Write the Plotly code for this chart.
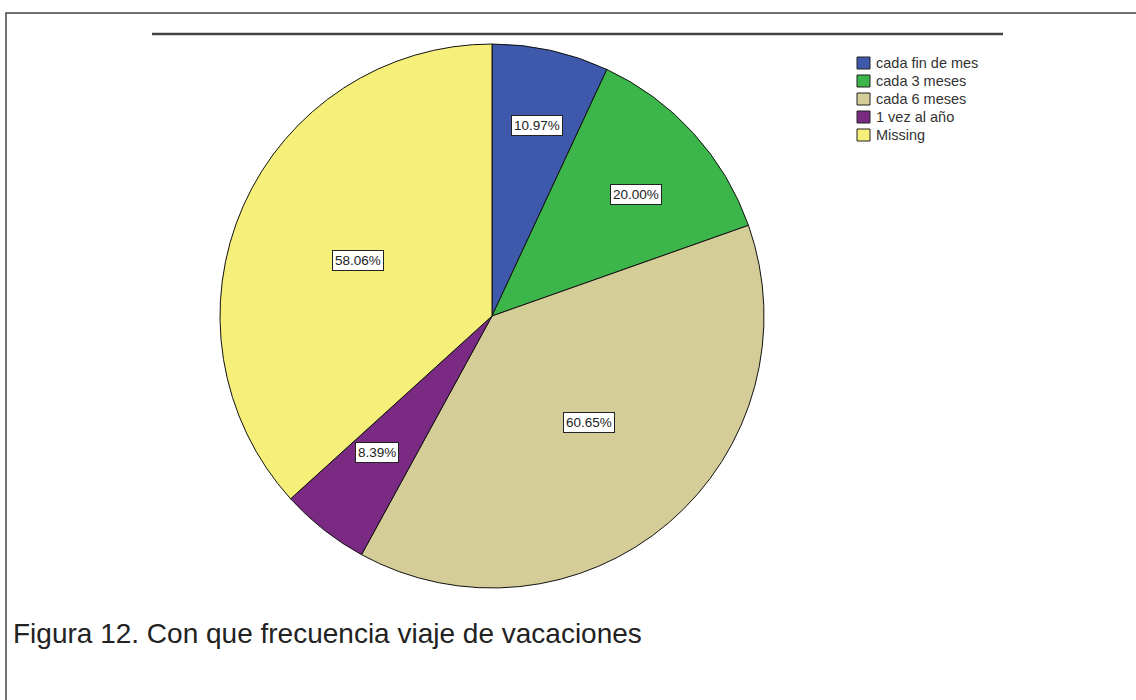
import math
import plotly.graph_objects as go

labels = ["cada fin de mes", "cada 3 meses", "cada 6 meses", "1 vez al año", "Missing"]
values = [10.97, 20.00, 60.65, 8.39, 58.06]
colors = ["#3E58AC", "#3CB54A", "#D4CD97", "#7A2A82", "#F6F07A"]

# radial position of each percentage box, as a fraction of the pie radius
label_r = [0.74, 0.69, 0.53, 0.66, 0.52]

W, H = 1136, 700
cx, cy = 492, 316      # pie centre in px, measured from the top-left
rad = 272
rx, ry = 281, 263      # used for the label placement


def px(x):
    return x / W


def py(y):
    return 1 - y / H


fig = go.Figure(go.Pie(
    labels=labels,
    values=values,
    sort=False,
    direction="clockwise",
    rotation=0,
    marker=dict(colors=colors, line=dict(color="#111", width=1)),
    textinfo="none",
    hoverinfo="label+value",
    showlegend=False,
    domain=dict(x=[px(cx - rad), px(cx + rad)], y=[py(cy + rad), py(cy - rad)]),
))

# percentage labels in boxes, placed along each slice bisector
total = sum(values)
cum = 0
for v, rf in zip(values, label_r):
    mid = (cum + v / 2) / total * 2 * math.pi
    cum += v
    fig.add_annotation(
        x=px(cx + rf * rx * math.sin(mid)), y=py(cy - rf * ry * math.cos(mid)),
        xref="paper", yref="paper", xanchor="center", yanchor="middle", showarrow=False,
        text=f"{v:.2f}%", font=dict(size=13.5, color="#222", family="Liberation Sans, Arial"),
        bgcolor="white", bordercolor="#222", borderwidth=1, borderpad=2,
    )

# legend drawn by hand (SPSS style: tight rows, square swatches with dark border)
leg_x, leg_y, leg_step = 857, 63, 18
for i, (lab, col) in enumerate(zip(labels, colors)):
    yc = leg_y + i * leg_step
    fig.add_shape(type="rect", xref="paper", yref="paper",
                  x0=px(leg_x), x1=px(leg_x + 13), y0=py(yc + 6), y1=py(yc - 6),
                  fillcolor=col, line=dict(color="#222", width=1))
    fig.add_annotation(x=px(leg_x + 17), y=py(yc), xref="paper", yref="paper",
                       xanchor="left", yanchor="middle", showarrow=False, text=lab,
                       font=dict(size=14.5, color="#333", family="Liberation Sans, Arial"))

# caption
fig.add_annotation(
    x=px(11), y=py(633), xref="paper", yref="paper", xanchor="left", yanchor="middle",
    showarrow=False, text="Figura 12. Con que frecuencia viaje de vacaciones",
    font=dict(size=28, color="#222", family="Liberation Sans, Arial"),
)

# outer frame and top rule of the chart area
fig.add_shape(type="rect", xref="paper", yref="paper", x0=px(6), x1=1.05, y0=-0.05, y1=py(13),
              line=dict(color="#444", width=1.5))
fig.add_shape(type="line", xref="paper", yref="paper", x0=px(152), x1=px(1003),
              y0=py(34), y1=py(34), line=dict(color="#444", width=2.5))

fig.update_layout(
    width=W, height=H,
    margin=dict(l=0, r=0, t=0, b=0),
    paper_bgcolor="white",
    showlegend=False,
)

fig.write_html("out.html", config={"displayModeBar": False},
               post_script="document.body.style.margin='0px';")
